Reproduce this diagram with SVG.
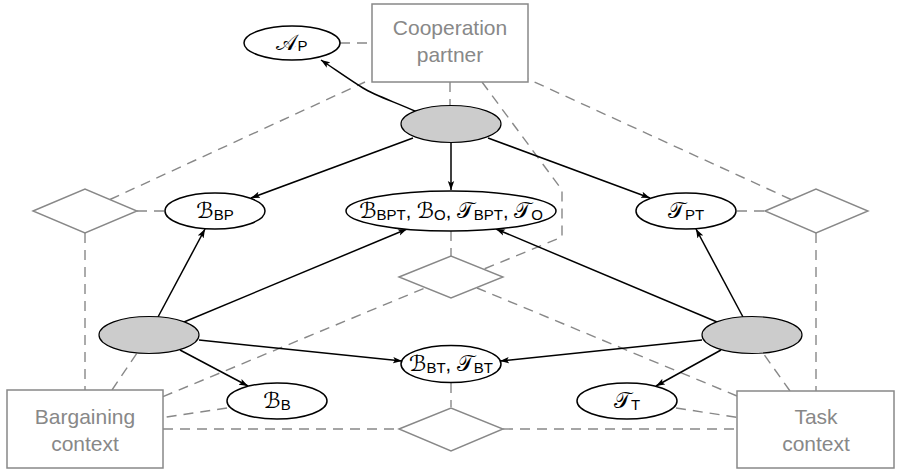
<svg xmlns="http://www.w3.org/2000/svg" width="898" height="469" viewBox="0 0 898 469">
<defs>
<marker id="ah" markerWidth="10" markerHeight="8" refX="9" refY="4" orient="auto" markerUnits="userSpaceOnUse">
<path d="M0,0.8 L9,4 L0,7.2 L2,4 Z" fill="#000"/>
</marker>
</defs>
<style>
.box{fill:#fff;stroke:#888;stroke-width:1.5}
.dia{fill:#fff;stroke:#888;stroke-width:1.4}
.dash{fill:none;stroke:#888;stroke-width:1.4;stroke-dasharray:10,7}
.edge{fill:none;stroke:#000;stroke-width:1.5;marker-end:url(#ah)}
.var{fill:#fff;stroke:#000;stroke-width:1.5}
.fac{fill:#ccc;stroke:#000;stroke-width:1.2}
.lbl{font-family:"Liberation Sans",Arial,sans-serif;font-size:21px;fill:#888;text-anchor:middle}
.m{font-family:"DejaVu Sans","Noto Sans",sans-serif;font-size:22px;fill:#000;text-anchor:middle}
.s{font-family:"Liberation Sans",Arial,sans-serif;font-size:15px}
.c{font-family:"Liberation Sans",Arial,sans-serif;font-size:20px}
</style>
<rect width="898" height="469" fill="#fff"/>
<g id="connectors">
<path class="dash" d="M340,43 L372,43"/>
<path class="dash" d="M450,82 L450,106"/>
<path class="dash" d="M110,199.5 L365,82"/>
<path class="dash" d="M791,199.5 L528,79"/>
<path class="dash" d="M482,82 L562,190 L562,237 L484,269"/>
<path class="dash" d="M451,231 L451,256"/>
<path class="dash" d="M137,211 L165,211"/>
<path class="dash" d="M737,211 L765,211"/>
<path class="dash" d="M85,233 L85,390"/>
<path class="dash" d="M816,233 L816,391"/>
<path class="dash" d="M112,390 L137,353"/>
<path class="dash" d="M790,391 L763,353"/>
<path class="dash" d="M163,396.6 L425,288"/>
<path class="dash" d="M737,396 L477,288"/>
<path class="dash" d="M163,429 L399,429"/>
<path class="dash" d="M503,429 L737,429"/>
<path class="dash" d="M451,383 L451,407"/>
<path class="dash" d="M227,408 L163,417.5"/>
<path class="dash" d="M676,408 L737,417.3"/>
<path class="edge" d="M417,112 C395,102 376,96 363,88 S336,70 321,60"/>
<path class="edge" d="M451,143 L451,190"/>
<path class="edge" d="M413,138 L251,198"/>
<path class="edge" d="M488,138 L650,198"/>
<path class="edge" d="M158,317 L205,229"/>
<path class="edge" d="M184,322 L407,229"/>
<path class="edge" d="M199,340 L402,361"/>
<path class="edge" d="M180,350 L248,386"/>
<path class="edge" d="M743,317 L696,229"/>
<path class="edge" d="M717,322 L496,229"/>
<path class="edge" d="M702,340 L500,361"/>
<path class="edge" d="M721,350 L656,386"/>
</g>
<g id="coop">
<rect class="box" x="372" y="4" width="156" height="78"/>
<text class="lbl" x="450" y="35">Cooperation</text>
<text class="lbl" x="450" y="62">partner</text>
</g>
<g id="barg">
<rect class="box" x="7" y="390" width="156" height="78"/>
<text class="lbl" x="85" y="424">Bargaining</text>
<text class="lbl" x="85" y="451">context</text>
</g>
<g id="task">
<rect class="box" x="737" y="391" width="157" height="77"/>
<text class="lbl" x="816" y="424">Task</text>
<text class="lbl" x="816" y="451">context</text>
</g>
<g id="dia-left"><polygon class="dia" points="33,211 85,189 137,211 85,233"/></g>
<g id="dia-right"><polygon class="dia" points="765,211 816,189 868,211 816,233"/></g>
<g id="dia-mid"><polygon class="dia" points="399,277 451,256 503,277 451,298"/></g>
<g id="dia-bot"><polygon class="dia" points="399,429 451,408 503,429 451,451"/></g>
<g id="fac-top"><ellipse class="fac" cx="451" cy="124" rx="50" ry="18.5"/></g>
<g id="fac-left"><ellipse class="fac" cx="149" cy="335" rx="50" ry="18.5"/></g>
<g id="fac-right"><ellipse class="fac" cx="752" cy="335" rx="50" ry="18.5"/></g>
<g id="AP">
<ellipse class="var" cx="292" cy="43" rx="48" ry="17"/>
<text class="m" x="292" y="50">𝒜<tspan class="s" dy="1">P</tspan></text>
</g>
<g id="BBP">
<ellipse class="var" cx="215" cy="211" rx="50" ry="18"/>
<text class="m" x="215" y="218">ℬ<tspan class="s" dy="2">BP</tspan></text>
</g>
<g id="TPT">
<ellipse class="var" cx="686" cy="211" rx="50" ry="18"/>
<text class="m" x="686" y="218">𝒯<tspan class="s" dy="2">PT</tspan></text>
</g>
<g id="BBPT">
<ellipse class="var" cx="451" cy="211" rx="105" ry="20"/>
<text class="m" x="451" y="218">ℬ<tspan class="s" dy="2">BPT</tspan><tspan class="c" dy="-2">, </tspan>ℬ<tspan class="s" dy="2">O</tspan><tspan class="c" dy="-2">, </tspan>𝒯<tspan class="s" dy="2">BPT</tspan><tspan class="c" dy="-2">, </tspan>𝒯<tspan class="s" dy="2">O</tspan></text>
</g>
<g id="BBT">
<ellipse class="var" cx="451" cy="364" rx="50" ry="18.5"/>
<text class="m" x="451" y="371">ℬ<tspan class="s" dy="2">BT</tspan><tspan class="c" dy="-2">, </tspan>𝒯<tspan class="s" dy="2">BT</tspan></text>
</g>
<g id="BB">
<ellipse class="var" cx="277" cy="401" rx="50" ry="18"/>
<text class="m" x="277" y="408">ℬ<tspan class="s" dy="2">B</tspan></text>
</g>
<g id="TT">
<ellipse class="var" cx="627" cy="401" rx="50" ry="18"/>
<text class="m" x="627" y="408">𝒯<tspan class="s" dy="2">T</tspan></text>
</g>
</svg>
